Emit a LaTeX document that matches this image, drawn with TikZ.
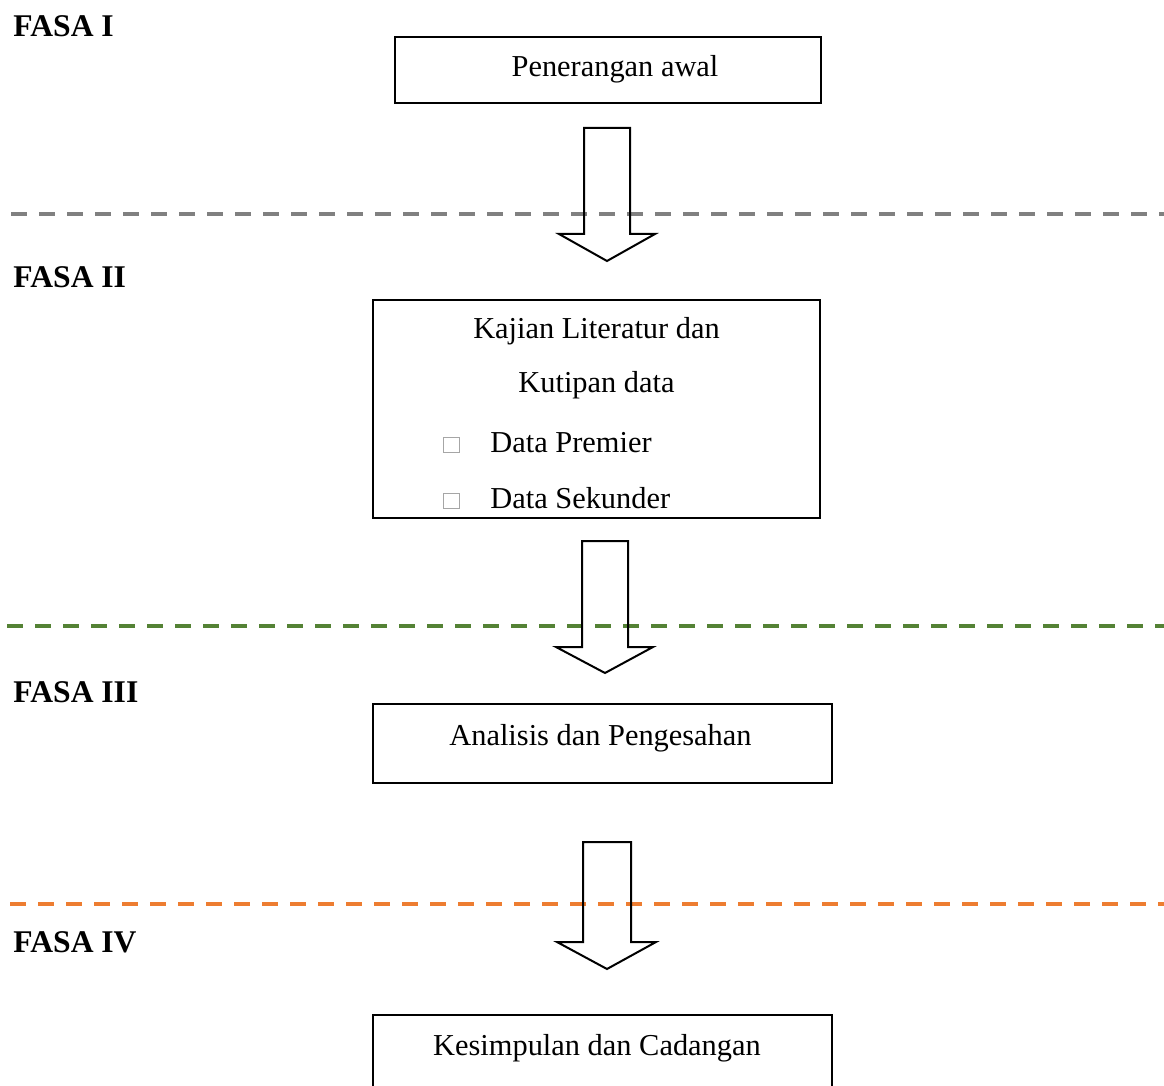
\documentclass[tikz,border=0pt]{standalone}
\usepackage{fontspec}
\setmainfont{Liberation Serif}
\definecolor{sepgray}{HTML}{808080}
\definecolor{sepgreen}{HTML}{548235}
\definecolor{seporange}{HTML}{ED7D31}
\begin{document}
\begin{tikzpicture}[x=0.5pt,y=-0.5pt,
  box/.style={draw, line width=1pt, rectangle, inner sep=0pt},
  fasa/.style={anchor=base west, inner sep=0pt, font=\fontsize{15.8}{19}\selectfont\bfseries},
  txt/.style={anchor=base, inner sep=0pt, font=\fontsize{15.2}{18}\selectfont},
  txtl/.style={anchor=base west, inner sep=0pt, font=\fontsize{15.2}{18}\selectfont},
  phase/.style={line width=1.75pt, dash pattern=on 8pt off 6pt},
  barrow/.style={draw, line width=1pt, line join=miter},
  bulletbox/.style={draw=gray!70, line width=0.4pt, minimum width=8pt, minimum height=7.5pt, inner sep=0pt}]
\useasboundingbox (0,0) rectangle (1164,1086);
\clip (0,0) rectangle (1164,1086);

% phase labels
\node[fasa] (f1) at (13,37) {FASA I};
\node[fasa] (f2) at (13,287) {FASA II};
\node[fasa] (f3) at (13,702) {FASA III};
\node[fasa] (f4) at (13,952) {FASA IV};

% separators
\coordinate (s1a) at (11,214);  \coordinate (s1b) at (1164,214);
\coordinate (s2a) at (7,626);   \coordinate (s2b) at (1164,626);
\coordinate (s3a) at (10,904);  \coordinate (s3b) at (1164,904);
\draw[phase, sepgray] (s1a) -- (s1b);
\draw[phase, sepgreen] (s2a) -- (s2b);
\draw[phase, seporange] (s3a) -- (s3b);

% boxes
\node[box, minimum width=213pt, minimum height=33pt] (b1) at (608,70) {};
\node[txt] (t1) at (615,77) {Penerangan awal};

\node[box, minimum width=223.5pt, minimum height=109pt] (b2) at (596.5,409) {};
\node[txt] (t2a) at (596.5,339) {Kajian Literatur dan};
\node[txt] (t2b) at (596.5,393) {Kutipan data};
\node[bulletbox] (k1) at (451,444.5) {};
\node[txtl] (t2c) at (490,452) {Data Premier};
\node[bulletbox] (k2) at (451,500.5) {};
\node[txtl] (t2d) at (490,508) {Data Sekunder};

\node[box, minimum width=229.5pt, minimum height=39.5pt] (b3) at (602.5,743.5) {};
\node[txt] (t3) at (600.5,745) {Analisis dan Pengesahan};

\node[box, minimum width=229.5pt, minimum height=39.5pt] (b4) at (602.5,1054.5) {};
\node[txt] (t4) at (597,1055) {Kesimpulan dan Cadangan};

% block arrows
\draw[barrow] (584,128) -- (630,128) -- (630,234) -- (655,234) -- (607,261) -- (559,234) -- (584,234) -- cycle;
\draw[barrow] (582,541) -- (628,541) -- (628,647) -- (653,647) -- (605,673) -- (556,647) -- (582,647) -- cycle;
\draw[barrow] (583,842) -- (631,842) -- (631,942) -- (656,942) -- (607,969) -- (557,942) -- (583,942) -- cycle;
\end{tikzpicture}
\end{document}
